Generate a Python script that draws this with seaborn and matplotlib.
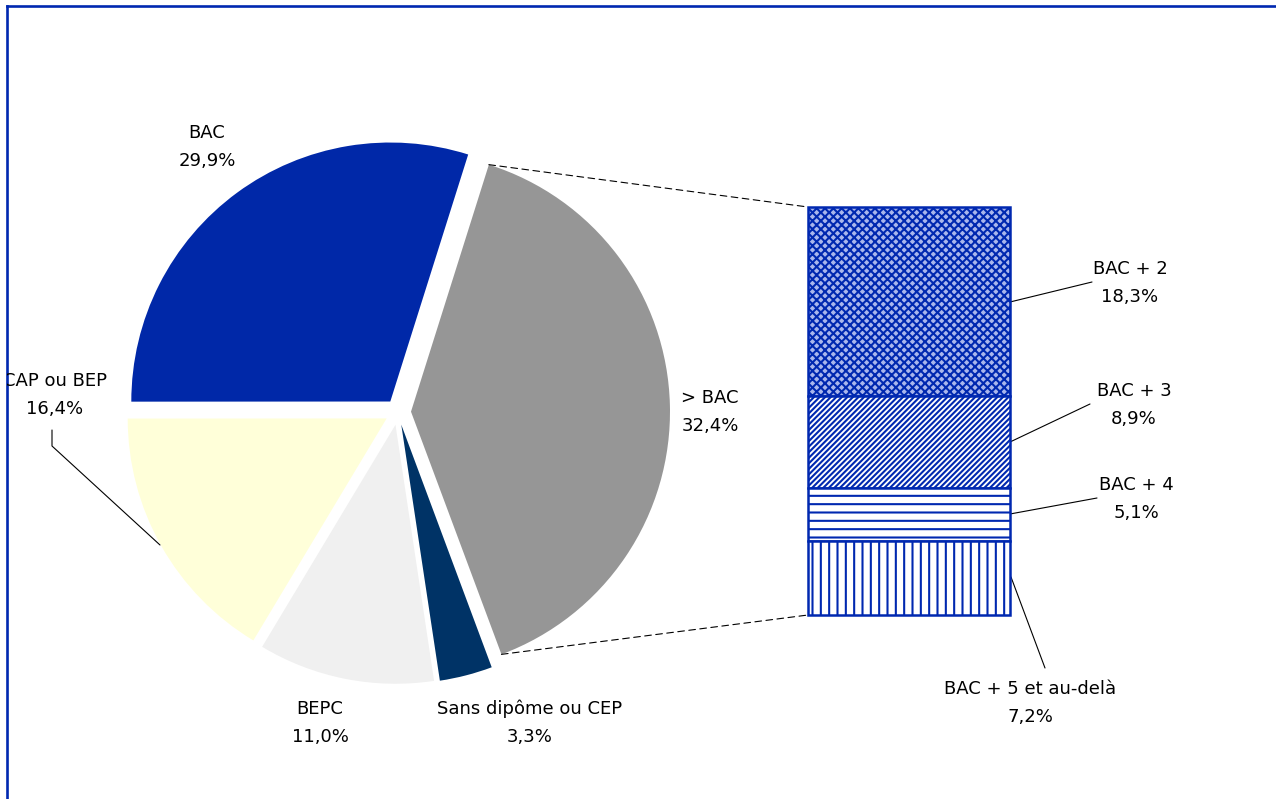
import matplotlib
matplotlib.use("Agg")
import matplotlib.pyplot as plt
import numpy as np
import seaborn as sns
from matplotlib.patches import ConnectionPatch

# pie: main categories (clockwise from the detailed slice)
pie_labels = ["> BAC", "Sans dipôme ou CEP", "BEPC", "CAP ou BEP", "BAC"]
pie_shares = [32.4, 3.3, 11.0, 16.4, 29.9]
pie_colors = ["#969696", "#003366", "#f0f0f0", "#ffffd9", "#0028a8"]

# bar: breakdown of the "> BAC" slice (top to bottom)
bar_labels = ["BAC + 2", "BAC + 3", "BAC + 4", "BAC + 5 et au-delà"]
bar_shares = [18.3, 8.9, 5.1, 7.2]
bar_hatches = ["xxxx", "//////", "--", "||"]
bar_faces = ["#a9b6ec", "white", "white", "white"]

BLUE = "#0028b0"
W, H = 1276, 799


def fmt(v):
    return f"{v:.1f}%".replace(".", ",")


def py(y):
    # pixel row -> data y (axes use 1 unit = 1 pixel)
    return H - y


sns.set_theme(style="white")
plt.rcParams["font.family"] = ["DejaVu Sans"]
plt.rcParams["hatch.linewidth"] = 1.5

fig = plt.figure(figsize=(W / 100, H / 100), dpi=100)
ax = fig.add_axes([7 / W, 0, (W - 7) / W, (H - 6) / H])

# the detailed slice is drawn with the size of its breakdown
sizes = [sum(bar_shares)] + pie_shares[1:]
wedges, _ = ax.pie(sizes, colors=pie_colors, startangle=72.5, counterclock=False,
                   center=(398, py(412)), radius=259, explode=[13] * len(sizes),
                   frame=True, wedgeprops=dict(linewidth=0))
ax.set_aspect("auto")
ax.set_xlim(7, W)
ax.set_ylim(0, H - 6)
ax.set_xticks([])
ax.set_yticks([])
for side in ["right", "bottom"]:
    ax.spines[side].set_visible(False)
for side in ["left", "top"]:
    ax.spines[side].set_color(BLUE)
    ax.spines[side].set_linewidth(1.9)

FS, LS = 13, 1.68
pie_pos = [(710, 412), (530, 723), (320, 723), (55, 395), (207, 147)]
for lab, v, (x, y) in zip(pie_labels, pie_shares, pie_pos):
    ax.text(x, py(y), f"{lab}\n{fmt(v)}", ha="center", va="center", fontsize=FS,
            linespacing=LS, color="black", clip_on=True)

# stacked bar of the breakdown
bax = fig.add_axes([808 / W, (H - 615) / H, 202 / W, 408 / H])
total = sum(bar_shares)
bottom = total
for v, hatch, face in zip(bar_shares, bar_hatches, bar_faces):
    bottom -= v
    bax.bar(0, v, bottom=bottom, width=1, color=face, edgecolor=BLUE, hatch=hatch,
            linewidth=1.8, clip_on=False)
bax.set_xlim(-0.5, 0.5)
bax.set_ylim(0, total)
bax.axis("off")

bar_pos = [(1130, 283), (1134, 405), (1136, 499), (1030, 703)]
for lab, v, (x, y) in zip(bar_labels, bar_shares, bar_pos):
    ax.text(x, py(y), f"{lab}\n{fmt(v)}", ha="center", va="center", fontsize=FS,
            linespacing=LS, color="black")

# leader lines
leaders = [
    [(52, 430), (52, 446), (160, 545)],
    [(1010, 302), (1092, 282)],
    [(1010, 442), (1090, 404)],
    [(1010, 514), (1097, 498)],
    [(1011, 577), (1045, 668)],
]
for pts in leaders:
    xs, ys = zip(*pts)
    ax.plot(xs, [py(y) for y in ys], color="black", lw=0.8)

# dashed connectors between the detailed slice and the bar
w = wedges[0]
cx, cy = w.center
for theta, yb in [(w.theta2, total), (w.theta1, 0)]:
    t = np.deg2rad(theta)
    con = ConnectionPatch(xyA=(cx + w.r * np.cos(t), cy + w.r * np.sin(t)), coordsA=ax.transData,
                          xyB=(-0.5, yb), coordsB=bax.transData,
                          color="black", lw=0.8, linestyle=(0, (6, 4)))
    fig.add_artist(con)

fig.savefig("out.png", dpi=100)
